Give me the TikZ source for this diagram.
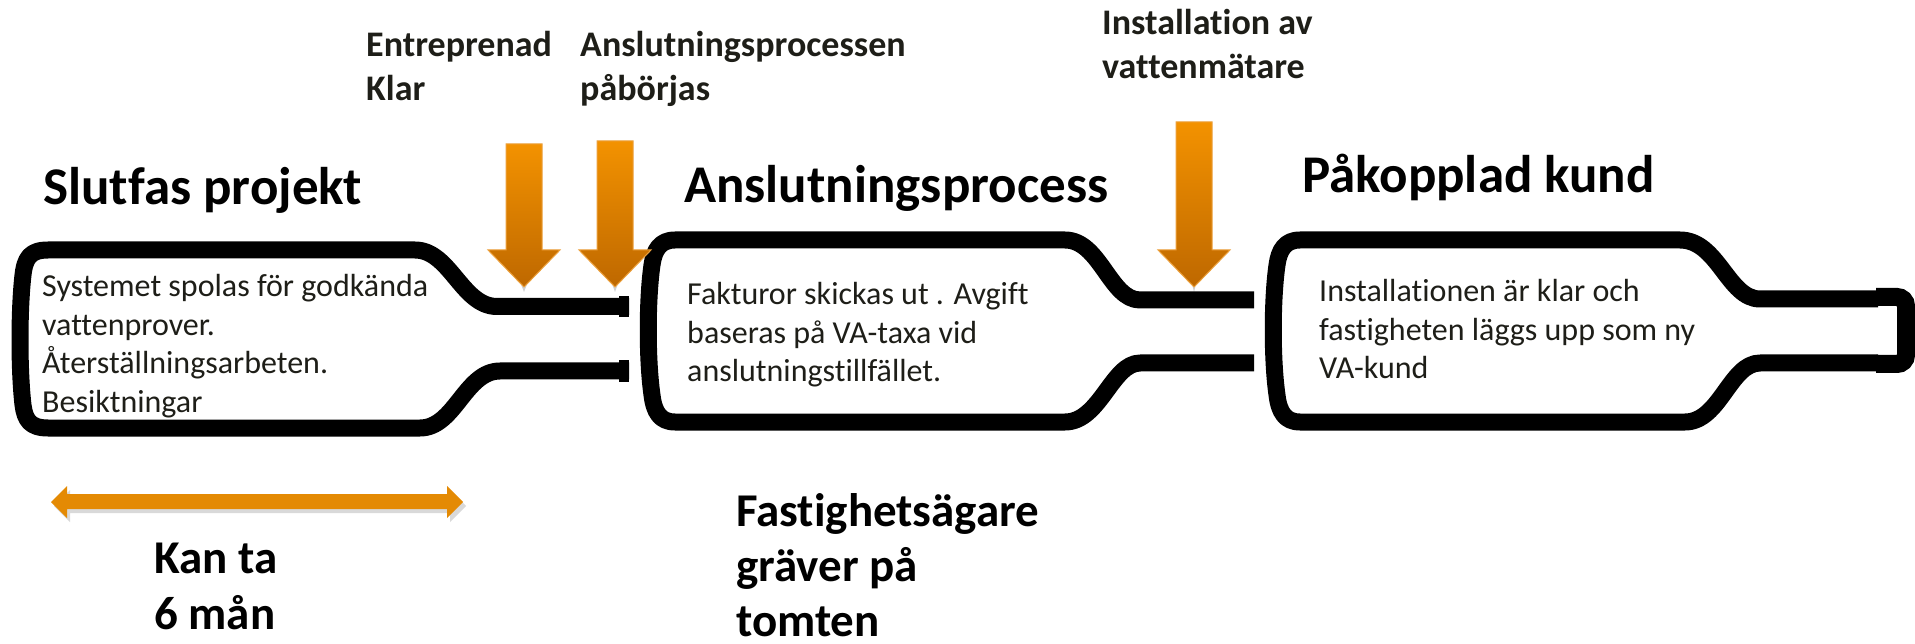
\documentclass[tikz,border=0pt]{standalone}
\usepackage{fontspec}
\setmainfont{Carlito}[Ligatures={TeX,NoCommon}]
\definecolor{arrowtop}{RGB}{243,146,0}
\definecolor{arrowbot}{RGB}{190,104,0}
\definecolor{arrowedge}{RGB}{236,160,60}
\definecolor{hbar}{RGB}{228,138,4}
\definecolor{txt}{RGB}{30,30,24}
\newcommand{\mlines}[1]{\begin{tabular}[t]{@{}l@{}}#1\end{tabular}}
\begin{document}
\begin{tikzpicture}[x=1pt,y=-1pt,
  bottle/.style={line width=17pt, line join=round, line cap=butt, draw=black},
  btext/.style={anchor=base west, inner sep=0pt, font=\fontsize{32}{38.4}\selectfont, text=txt},
  title/.style={anchor=base west, inner sep=0pt, font=\fontsize{53}{64}\selectfont\bfseries, text=black},
  lab/.style={anchor=base west, inner sep=0pt, font=\fontsize{36}{44}\selectfont\bfseries, text=txt},
  big/.style={anchor=base west, inner sep=0pt, font=\fontsize{47}{55.5}\selectfont\bfseries, text=black},
  downarrow/.style={top color=arrowtop, bottom color=arrowbot, draw=arrowedge, line width=1pt, line join=miter},
  ashadow/.style={fill=black, opacity=0.18, draw=none}
]
\useasboundingbox (0,0) rectangle (1915,644);
\fill[white] (0,0) rectangle (1915,644);

% titles
\node[title] (t1) at (43,205) {Slutfas projekt};
\node[title] (t2) at (684,203) {Anslutningsprocess};
\node[title] (t3) at (1302,193) {Påkopplad kund};

% top labels
\node[lab] (l1) at (366,57) {\mlines{Entreprenad\\Klar}};
\node[lab] (l2) at (580,57) {\mlines{Anslutningsprocessen\\påbörjas}};
\node[lab] (l3) at (1102,35) {\mlines{Installation av\\vattenmätare}};

% bottle 1
\draw[bottle] (629,306.5) -- (497,306.5) .. controls (462,306.5) and (450,250) .. (415,250)
  -- (48,250) .. controls (30,250) and (25,258) .. (23,275)
  .. controls (19,310) and (19,370) .. (23,405)
  .. controls (25,420) and (30,428) .. (48,428)
  -- (420,428) .. controls (455,428) and (465,371) .. (500,371) -- (629,371);
\fill[black] (619,296) rectangle (629,317);
\fill[black] (619,360) rectangle (629,382);

% bottle 2
\draw[bottle] (1254,300) -- (1140,300) .. controls (1110,300) and (1100,240) .. (1065,240)
  -- (675,240) .. controls (660,240) and (654,250) .. (652,265)
  .. controls (647,300) and (647,360) .. (652,395)
  .. controls (654,412) and (660,422) .. (675,422)
  -- (1065,422) .. controls (1100,422) and (1112,363) .. (1140,363) -- (1254,363);

% bottle 3
\draw[bottle] (1878,299) -- (1760,299) .. controls (1728,299) and (1718,240) .. (1680,240)
  -- (1300,240) .. controls (1285,240) and (1279,250) .. (1277,265)
  .. controls (1272,300) and (1272,360) .. (1277,395)
  .. controls (1279,412) and (1285,422) .. (1300,422)
  -- (1685,422) .. controls (1720,422) and (1730,363) .. (1760,363) -- (1878,363);
\draw[line width=18pt, rounded corners=9pt] (1876,297) -- (1906,297) -- (1906,364) -- (1876,364);

% bottle texts
\node[btext] (b1) at (42,297) {\mlines{Systemet spolas för godkända\\vattenprover.\\Återställningsarbeten.\\Besiktningar}};
\node[btext] (b2) at (687,305) {\mlines{Fakturor skickas ut . Avgift\\baseras på VA-taxa vid\\anslutningstillfället.}};
\node[btext] (b3) at (1319,302) {\mlines{Installationen är klar och\\fastigheten läggs upp som ny\\VA-kund}};

% down arrows
\foreach \cx/\top in {524/144, 615/141, 1194/122}{
  \fill[ashadow] (\cx-15,\top+110) -- (\cx+15,\top+110) -- (\cx,292) -- cycle;
  \shade[downarrow] (\cx-18,\top) -- (\cx+18,\top) -- (\cx+18,250) -- (\cx+36,250)
    -- (\cx,287) -- (\cx-36,250) -- (\cx-18,250) -- cycle;
}

% double arrow
\fill[black, opacity=0.15] (54,506) -- (70,490) -- (70,498) -- (450,498) -- (450,490) -- (466,506)
  -- (450,522) -- (450,513) -- (70,513) -- (70,522) -- cycle;
\fill[hbar] (51,502) -- (67,486) -- (67,494) -- (447,494) -- (447,486) -- (463,502)
  -- (447,518) -- (447,509) -- (67,509) -- (67,518) -- cycle;

% bottom labels
\node[big] (k1a) at (154,573) {Kan ta};
\node[big] (k1b) at (154,629) {6 mån};
\node[big] (k2a) at (736,526) {Fastighetsägare};
\node[big] (k2b) at (736,581) {gräver på};
\node[big] (k2c) at (736,636) {tomten};
\end{tikzpicture}
\end{document}
